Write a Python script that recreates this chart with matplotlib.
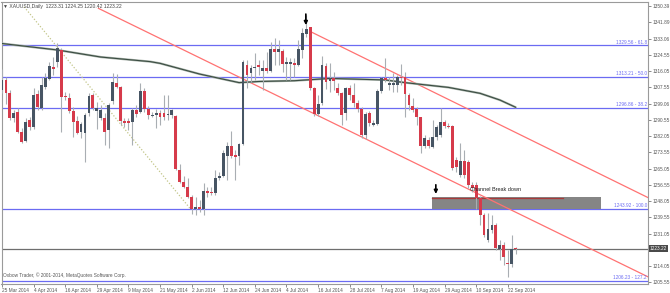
import matplotlib
matplotlib.use("Agg")
import matplotlib.pyplot as plt
from matplotlib.patches import Rectangle

# XAUUSD daily bars, 25 Mar 2014 .. 24 Sep 2014
opens = [1306.0, 1311.5, 1304.8, 1291.4, 1294.9, 1284.4, 1279.7, 1290.5, 1287.0, 1304.1,
         1296.6, 1308.0, 1311.8, 1318.1, 1321.1, 1327.2, 1303.1, 1301.9, 1295.4, 1290.2,
         1284.4, 1283.5, 1294.0, 1303.4, 1295.4, 1291.4, 1291.4, 1285.3, 1300.6, 1309.7,
         1307.6, 1290.2, 1290.2, 1289.6, 1295.8, 1294.9, 1305.7, 1296.3, 1292.6, 1293.1,
         1294.0, 1294.0, 1293.1, 1293.1, 1292.6, 1264.3, 1258.2, 1255.6, 1250.4, 1243.7,
         1244.8, 1243.7, 1253.5, 1253.0, 1252.1, 1260.0, 1261.2, 1271.7, 1276.9, 1272.0,
         1271.7, 1278.0, 1319.3, 1315.0, 1317.6, 1319.3, 1316.4, 1317.6, 1316.4, 1327.5,
         1326.3, 1326.8, 1319.9, 1319.9, 1320.2, 1319.3, 1327.2, 1335.6, 1339.1, 1307.1,
         1293.7, 1299.2, 1318.8, 1311.1, 1312.4, 1307.1, 1304.5, 1294.0, 1307.1, 1303.6,
         1299.3, 1296.1, 1282.7, 1294.0, 1287.9, 1288.4, 1305.9, 1312.7, 1308.9, 1308.9,
         1308.9, 1313.2, 1313.2, 1303.6, 1298.0, 1296.1, 1291.9, 1276.9, 1280.1, 1276.6,
         1281.8, 1282.7, 1289.6, 1287.4, 1287.4, 1269.6, 1261.7, 1269.1, 1268.7, 1256.5,
         1256.5, 1249.5, 1240.8, 1227.7, 1232.9, 1235.5, 1222.8, 1225.1, 1215.8, 1215.1,
         1223.31]
highs = [1317.1, 1313.2, 1306.2, 1295.8, 1296.6, 1286.2, 1291.4, 1292.3, 1307.1, 1306.2,
         1313.2, 1315.3, 1321.1, 1323.7, 1331.0, 1328.1, 1305.4, 1304.5, 1297.2, 1292.6,
         1289.6, 1294.0, 1304.5, 1304.5, 1300.1, 1298.4, 1294.0, 1299.2, 1315.3, 1314.4,
         1308.3, 1291.4, 1291.4, 1296.6, 1298.4, 1309.7, 1307.1, 1297.9, 1294.9, 1296.1,
         1295.8, 1303.6, 1303.6, 1296.1, 1293.1, 1267.5, 1261.2, 1260.0, 1251.3, 1250.4,
         1248.6, 1257.7, 1255.6, 1255.6, 1264.3, 1263.5, 1274.8, 1279.2, 1284.9, 1274.8,
         1278.7, 1322.0, 1322.0, 1319.3, 1325.4, 1322.0, 1322.0, 1326.3, 1331.6, 1333.3,
         1332.4, 1327.5, 1323.7, 1322.8, 1322.8, 1332.4, 1338.5, 1345.5, 1339.4, 1307.6,
         1303.6, 1324.0, 1320.2, 1320.2, 1315.8, 1309.7, 1305.4, 1308.0, 1308.9, 1309.7,
         1301.0, 1297.5, 1294.9, 1295.2, 1290.5, 1306.6, 1312.9, 1322.8, 1313.2, 1315.0,
         1314.1, 1319.9, 1315.8, 1304.5, 1301.9, 1297.5, 1292.3, 1282.7, 1281.8, 1290.5,
         1287.9, 1296.6, 1290.5, 1288.8, 1287.9, 1271.3, 1278.3, 1274.8, 1269.6, 1258.2,
         1258.2, 1250.7, 1241.6, 1241.6, 1240.8, 1236.4, 1227.7, 1226.8, 1222.4, 1230.3,
         1224.25]
lows = [1304.5, 1298.9, 1290.5, 1289.6, 1283.5, 1278.3, 1279.2, 1285.3, 1285.6, 1295.8,
        1295.8, 1306.6, 1311.5, 1314.1, 1318.5, 1284.4, 1301.0, 1294.0, 1281.8, 1283.2,
        1280.9, 1268.7, 1292.6, 1295.8, 1285.6, 1290.5, 1277.4, 1275.7, 1298.9, 1307.1,
        1287.9, 1287.0, 1285.3, 1277.4, 1292.3, 1294.0, 1294.9, 1290.9, 1291.9, 1286.2,
        1287.9, 1290.5, 1290.5, 1291.4, 1264.3, 1257.4, 1254.7, 1249.5, 1241.3, 1240.8,
        1242.5, 1240.8, 1250.4, 1251.3, 1251.3, 1259.1, 1260.9, 1259.1, 1270.5, 1259.1,
        1267.0, 1277.4, 1307.1, 1310.6, 1311.5, 1314.1, 1306.2, 1315.0, 1315.8, 1319.3,
        1319.3, 1315.8, 1311.5, 1311.5, 1313.2, 1318.8, 1322.8, 1334.2, 1306.2, 1292.6,
        1292.6, 1298.4, 1306.6, 1305.4, 1306.2, 1303.6, 1287.9, 1290.5, 1301.0, 1297.5,
        1294.9, 1280.9, 1280.4, 1287.4, 1287.4, 1287.7, 1304.8, 1310.6, 1306.2, 1305.4,
        1305.4, 1308.9, 1292.3, 1295.8, 1294.9, 1287.9, 1273.1, 1275.7, 1275.7, 1275.7,
        1280.1, 1281.8, 1286.2, 1286.2, 1264.3, 1263.5, 1260.9, 1260.0, 1254.7, 1253.0,
        1243.7, 1235.5, 1229.4, 1226.8, 1231.2, 1222.4, 1217.2, 1214.6, 1208.5, 1213.7,
        1220.42]
closes = [1311.5, 1304.5, 1291.4, 1294.0, 1284.4, 1279.2, 1289.6, 1286.7, 1303.6, 1297.2,
          1308.9, 1312.3, 1318.8, 1317.1, 1328.1, 1302.7, 1302.4, 1295.4, 1289.6, 1283.5,
          1288.4, 1293.1, 1303.1, 1296.6, 1296.6, 1295.8, 1284.4, 1298.4, 1310.2, 1308.0,
          1290.2, 1289.1, 1288.8, 1295.8, 1293.7, 1305.7, 1296.1, 1293.1, 1293.3, 1294.0,
          1292.3, 1291.9, 1293.7, 1295.8, 1264.7, 1258.2, 1255.6, 1250.4, 1243.7, 1244.8,
          1243.7, 1253.5, 1252.5, 1252.1, 1260.0, 1261.2, 1273.4, 1276.9, 1271.7, 1271.0,
          1277.8, 1321.1, 1314.1, 1317.6, 1318.5, 1318.1, 1317.6, 1316.4, 1327.5, 1326.3,
          1327.5, 1319.9, 1321.1, 1321.1, 1319.3, 1327.5, 1335.9, 1338.0, 1307.1, 1293.7,
          1298.9, 1319.3, 1310.6, 1312.4, 1311.1, 1304.8, 1293.1, 1307.1, 1303.6, 1299.3,
          1296.1, 1282.7, 1293.7, 1288.8, 1289.1, 1305.9, 1312.4, 1311.5, 1309.7, 1310.1,
          1312.9, 1312.4, 1304.1, 1298.4, 1295.8, 1291.9, 1276.9, 1280.9, 1276.9, 1281.8,
          1287.0, 1289.6, 1287.4, 1287.0, 1265.2, 1266.1, 1269.1, 1261.7, 1256.5, 1254.7,
          1249.5, 1240.8, 1230.3, 1233.3, 1235.5, 1223.3, 1225.1, 1219.0, 1214.9, 1222.8,
          1223.22]

# slow moving average, sampled at a few bars
ma_bar = [-0.5, 14, 25, 37.5, 40, 50, 60, 65, 74, 83, 97, 102, 113, 121, 126, 130]
ma_val = [1330.7, 1327.2, 1323.5, 1321.1, 1320.2, 1314.6, 1310.1, 1310.7, 1311.1,
          1312.3, 1311.5, 1310.1, 1307.6, 1304.5, 1301.0, 1297.2]

# fibonacci levels
fib_prices = [1329.56, 1313.21, 1296.86, 1243.92, 1206.23]
fib_labels = ["1329.56 - 61.8", "1313.21 - 50.0", "1296.86 - 38.2",
              "1243.92 - 100.0", "1206.23 - 127.2"]

# trend lines: (bar, price) end points
chan_low = [(24.4, 1349.0), (163.5, 1208.4)]
chan_high = [(78.0, 1336.9), (163.5, 1249.9)]
fib_diag = [(5.6, 1349.8), (47.6, 1244.2)]

price_ticks = [1350.39, 1341.89, 1333.06, 1324.55, 1316.05, 1307.55, 1299.06, 1290.55,
               1282.05, 1273.55, 1265.05, 1256.55, 1248.05, 1239.55, 1231.05, 1214.05,
               1205.55]
date_ticks = ["25 Mar 2014", "4 Apr 2014", "16 Apr 2014", "29 Apr 2014", "9 May 2014",
              "21 May 2014", "2 Jun 2014", "12 Jun 2014", "24 Jun 2014", "4 Jul 2014",
              "16 Jul 2014", "28 Jul 2014", "7 Aug 2014", "19 Aug 2014", "29 Aug 2014",
              "10 Sep 2014", "22 Sep 2014"]
BARS_PER_LABEL = 8
BID = 1223.22

BULL = "#475564"
BEAR = "#d63b4b"
WICK = "#a9aeb3"
FIB = "#6b6bf2"
CHAN = "#ff7272"
FS = 3.4

plt.rcParams["font.family"] = ["Liberation Sans", "DejaVu Sans"]

fig = plt.figure(figsize=(6.70, 2.93), dpi=100)
ax = fig.add_axes([1.5 / 670, 9 / 293, 646.5 / 670, 282.3 / 293])
ax.set_xlim(-0.13, 163.5)
ax.set_ylim(1204.65, 1352.48)

n = len(opens)
xs = list(range(n))

# fib level lines and tags
for p, lab in zip(fib_prices, fib_labels):
    ax.axhline(p, color=FIB, lw=0.9, zorder=2)
    ax.text(163.2, p + 0.3, lab, color=FIB, fontsize=FS, ha="right", va="bottom", zorder=6)

# channel break box
ax.add_patch(Rectangle((108.8, 1243.92), 42.8, 6.2, facecolor="#858585",
                       edgecolor="none", zorder=3))
ax.plot([108.8, 142.0], [1249.7, 1249.7], color="#a83a3a", lw=0.9, zorder=3)
ax.text(118.5, 1254.0, "Channel Break down", fontsize=4.0, color="#222222",
        ha="left", va="center", zorder=6)

# current bid line
ax.axhline(BID, color="#6e6e6e", lw=0.9, zorder=2)

# trend lines
for seg in (chan_low, chan_high):
    ax.plot([seg[0][0], seg[1][0]], [seg[0][1], seg[1][1]], color=CHAN, lw=0.9, zorder=3)
ax.plot([fib_diag[0][0], fib_diag[1][0]], [fib_diag[0][1], fib_diag[1][1]],
        color="#c3c68a", lw=0.9, ls=(0, (1, 1.5)), zorder=3)

# moving average
ax.plot(ma_bar, ma_val, color="#a9b3ab", lw=1.6, zorder=4, solid_capstyle="round")
ax.plot(ma_bar, ma_val, color="#3b4d42", lw=0.8, zorder=4)

# candles
ax.vlines(xs, lows, highs, color=WICK, lw=0.8, zorder=5)
for i in xs:
    o, c = opens[i], closes[i]
    col = BULL if c >= o else BEAR
    lo = min(o, c)
    h = max(abs(c - o), 0.5)
    ax.add_patch(Rectangle((i - 0.36, lo), 0.72, h, facecolor=col, edgecolor="none",
                           zorder=5.5))

# arrows
for bx, ptop, pbot in [(76.9, 1346.0, 1340.2), (109.8, 1256.6, 1251.8)]:
    ax.annotate("", xy=(bx, pbot), xytext=(bx, ptop),
                arrowprops=dict(arrowstyle="-|>", color="black", lw=1.2,
                                mutation_scale=5, shrinkA=0, shrinkB=0), zorder=7)

# axes cosmetics
for side in ("left", "top", "right", "bottom"):
    ax.spines[side].set_color("#9a9a9a")
    ax.spines[side].set_linewidth(0.8)

ax.yaxis.tick_right()
ax.set_yticks(price_ticks)
ax.set_yticklabels([f"{p:.2f}" for p in price_ticks])
ax.tick_params(axis="y", length=2, width=0.6, color="#777777", pad=1,
               labelsize=FS, labelcolor="#555555")
ax.set_xticks([k * BARS_PER_LABEL for k in range(len(date_ticks))])
ax.set_xticklabels(date_ticks, ha="left")
ax.tick_params(axis="x", length=2, width=0.6, color="#777777", pad=1,
               labelsize=FS, labelcolor="#555555")

ax.text(1.0025, BID, f"{BID:.2f}", transform=ax.get_yaxis_transform(), fontsize=FS,
        color="white", ha="left", va="center", zorder=8,
        bbox=dict(boxstyle="square,pad=0.15", facecolor="#4a4a4a", edgecolor="none"))

ax.text(0.003, 0.993, "\u25bc XAUUSD,Daily  1223.31 1224.25 1220.42 1223.22",
        transform=ax.transAxes, fontsize=3.6, color="#444444", ha="left", va="top")
ax.text(0.003, 0.022, "Oxbow Trader, \u00a9 2001-2014, MetaQuotes Software Corp.",
        transform=ax.transAxes, fontsize=FS, color="#555555", ha="left", va="bottom")

fig.savefig("out.png", dpi=100, facecolor="white")
